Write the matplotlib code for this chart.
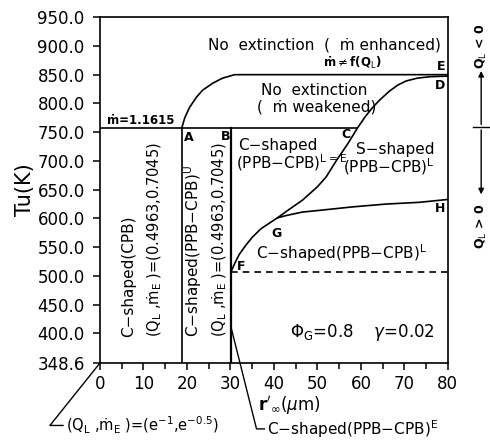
import matplotlib
matplotlib.use("Agg")
import matplotlib.pyplot as plt

# regime map data
y_min, y_max = 348.6, 950.0
ytick_vals = [348.6, 400, 450, 500, 550, 600, 650, 700, 750, 800, 850, 900, 950]
xtick_vals = [0, 10, 20, 30, 40, 50, 60, 70, 80]

# m = 1.1615 line (A .. C)
line_m_x = [0, 59.2]
line_m_y = [757, 757]

# upper boundary A -> E
ae_x = [18.8, 19.5, 20.6, 22.2, 23.6, 25.9, 28.2, 31.0, 80]
ae_y = [757, 775, 793, 811, 823, 835, 844, 850, 850]

# verticals at A and B
a_x = [18.8, 18.8]
a_y = [348.6, 757]
b_x = [30.2, 30.2]
b_y = [348.6, 757]

# S-curve F -> G -> C -> D
fd_x = [30.3, 31, 32, 33.5, 35, 37, 39, 40.8, 43, 46.6, 50, 52, 54.4, 57, 59.2,
        61, 62.6, 64.2, 66.5, 68.5, 70.4, 73, 76, 80]
fd_y = [510, 522, 537, 553, 567, 582, 592, 601, 613, 632, 655, 672, 701, 730, 757,
        777, 792, 805, 821, 832, 839, 844, 846.5, 847.5]

# G -> H
gh_x = [40.8, 42.8, 46.5, 50.4, 58, 65.8, 73.4, 80]
gh_y = [601, 605, 611, 614, 620, 625, 628, 633]

# dashed line from F
dash_x = [30.2, 80]
dash_y = [507, 507]

plt.rcParams['font.family'] = ['DejaVu Sans']
fig = plt.figure(figsize=(4.9, 4.4), dpi=100)
ax = fig.add_axes([0.204, 0.175, 0.71, 0.786])

lw = 1.2
fs = 11
ax.plot(line_m_x, line_m_y, color='black', lw=lw)
ax.plot(ae_x, ae_y, color='black', lw=lw)
ax.plot(a_x, a_y, color='black', lw=lw)
ax.plot(b_x, b_y, color='black', lw=1.6)
ax.plot(fd_x, fd_y, color='black', lw=lw)
ax.plot(gh_x, gh_y, color='black', lw=lw)
ax.plot(dash_x, dash_y, color='black', lw=lw, ls=(0, (4, 3)))

ax.set_xlim(0, 80)
ax.set_ylim(y_min, y_max)
ax.set_xticks(xtick_vals)
ax.set_xticks(range(5, 80, 10), minor=True)
ax.set_yticks(ytick_vals)
ax.set_yticklabels(['%.1f' % v for v in ytick_vals])
ax.tick_params(axis='both', which='major', direction='out', length=5, width=1.1, labelsize=12)
ax.tick_params(axis='y', which='major', pad=6)
ax.tick_params(axis='x', which='minor', direction='out', length=4, width=1.1)
for s in ax.spines.values():
    s.set_linewidth(1.2)

ax.set_ylabel('Tu(K)', fontsize=15, labelpad=2)

# region labels
ax.text(51.6, 901, 'No  extinction  (  ṁ enhanced)', fontsize=fs, ha='center', va='center')
ax.text(58.0, 870, r'ṁ$\neq$f(Q$_\mathrm{L}$)', fontsize=8.5, fontweight='bold', ha='center', va='center')
ax.text(79.4, 864, 'E', fontsize=9, fontweight='bold', ha='right', va='center')
ax.text(79.4, 832, 'D', fontsize=9, fontweight='bold', ha='right', va='center')
ax.text(37.1, 823, 'No  extinction', fontsize=fs, ha='left', va='center')
ax.text(36.2, 793, '(  ṁ weakened)', fontsize=fs, ha='left', va='center')
ax.text(1.6, 771, 'ṁ=1.1615', fontsize=8.5, fontweight='bold', ha='left', va='center')
ax.text(19.4, 741, 'A', fontsize=9, fontweight='bold', ha='left', va='center')
ax.text(29.9, 743, 'B', fontsize=9, fontweight='bold', ha='right', va='center')
ax.text(56.6, 746, 'C', fontsize=9, fontweight='bold', ha='center', va='center')
ax.text(31.8, 727, 'C−shaped', fontsize=fs, ha='left', va='center')
ax.text(31.2, 697, r'(PPB−CPB)$^\mathrm{L=E}$', fontsize=fs, ha='left', va='center')
ax.text(58.8, 720, 'S−shaped', fontsize=fs, ha='left', va='center')
ax.text(55.9, 690, r'(PPB−CPB)$^\mathrm{L}$', fontsize=fs, ha='left', va='center')
ax.text(40.6, 574, 'G', fontsize=9, fontweight='bold', ha='center', va='center')
ax.text(35.8, 539, r'C−shaped(PPB−CPB)$^\mathrm{L}$', fontsize=fs, ha='left', va='center')
ax.text(32.5, 516, 'F', fontsize=9, fontweight='bold', ha='center', va='center')
ax.text(79.4, 618, 'H', fontsize=9, fontweight='bold', ha='right', va='center')
ax.text(43.6, 402, r'$\Phi_\mathrm{G}$=0.8    $\gamma$=0.02', fontsize=12, ha='left', va='center')

qm = r'(Q$_\mathrm{L}$ ,ṁ$_\mathrm{E}$ )=(0.4963,0.7045)'
ax.text(6.7, 394, 'C−shaped(CPB)', fontsize=fs, rotation=90, ha='center', va='bottom')
ax.text(12.6, 394, qm, fontsize=10.5, rotation=90, ha='center', va='bottom')
ax.text(21.4, 394, r'C−shaped(PPB−CPB)$^\mathrm{U}$', fontsize=fs, rotation=90, ha='center', va='bottom')
ax.text(27.5, 394, qm, fontsize=10.5, rotation=90, ha='center', va='bottom')

# x label under ticks
ax.text(36.4, 275, r"$\mathbf{r}'_{\infty}$($\mu$m)", fontsize=12, ha='left', va='center', clip_on=False)

# leader lines below the axes
ax.plot([0, -11.5, -8.5], [348.6, 240, 240], color='black', lw=1.0, clip_on=False)
ax.text(-7.8, 240, r'(Q$_\mathrm{L}$ ,ṁ$_\mathrm{E}$ )=(e$^{-1}$,e$^{-0.5}$)', fontsize=10.5,
        ha='left', va='center', clip_on=False)
ax.plot([30.2, 36.0, 37.8], [409, 234, 234], color='black', lw=1.0, clip_on=False)
ax.text(38.4, 234, r'C−shaped(PPB−CPB)$^\mathrm{E}$', fontsize=fs, ha='left', va='center', clip_on=False)

# Q_L sign indicator on the right
fig.text(0.982, 0.895, r'Q$_\mathrm{L}$ < 0', rotation=90, fontsize=9, fontweight='bold',
         ha='center', va='center')
fig.text(0.982, 0.485, r'Q$_\mathrm{L}$ > 0', rotation=90, fontsize=9, fontweight='bold',
         ha='center', va='center')
fig.add_artist(matplotlib.patches.FancyArrowPatch((0.982, 0.711), (0.982, 0.845),
               transform=fig.transFigure, arrowstyle='-|>', mutation_scale=8, lw=1.0, color='black'))
fig.add_artist(matplotlib.patches.FancyArrowPatch((0.982, 0.711), (0.982, 0.552),
               transform=fig.transFigure, arrowstyle='-|>', mutation_scale=8, lw=1.0, color='black'))
fig.add_artist(matplotlib.lines.Line2D([0.966, 0.998], [0.711, 0.711], transform=fig.transFigure,
               lw=1.0, color='black'))

fig.savefig('out.png', dpi=100)
